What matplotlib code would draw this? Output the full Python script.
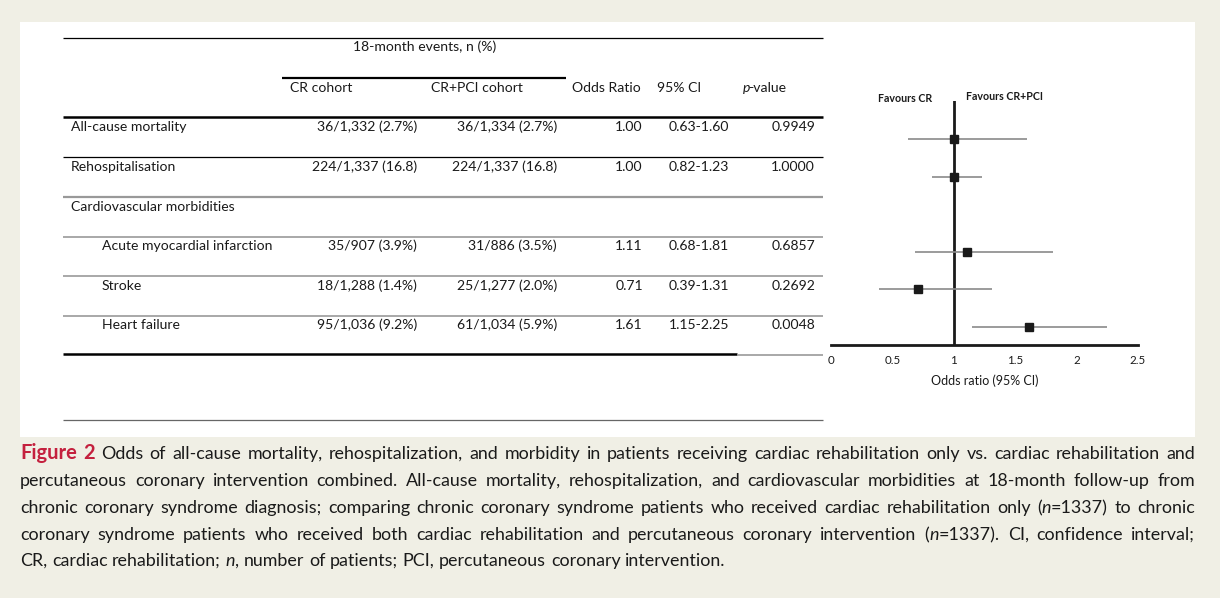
"""Forest plot with results table: CR vs CR+PCI, 18-month events."""

import matplotlib.pyplot as plt
from matplotlib.patches import Rectangle

# ---- data ----
outcomes = ["All-cause mortality", "Rehospitalisation", "Cardiovascular morbidities",
            "Acute myocardial infarction", "Stroke", "Heart failure"]
indented = [False, False, False, True, True, True]
cr_events = ["36/1,332 (2.7%)", "224/1,337 (16.8)", None,
             "35/907 (3.9%)", "18/1,288 (1.4%)", "95/1,036 (9.2%)"]
crpci_events = ["36/1,334 (2.7%)", "224/1,337 (16.8)", None,
                "31/886 (3.5%)", "25/1,277 (2.0%)", "61/1,034 (5.9%)"]
odds_ratio = [1.00, 1.00, None, 1.11, 0.71, 1.61]
ci_low = [0.63, 0.82, None, 0.68, 0.39, 1.15]
ci_high = [1.60, 1.23, None, 1.81, 1.31, 2.25]
p_values = ["0.9949", "1.0000", None, "0.6857", "0.2692", "0.0048"]

x_ticks = [0, 0.5, 1, 1.5, 2, 2.5]
x_tick_labels = ["0", "0.5", "1", "1.5", "2", "2.5"]

caption_lines = [
    "#Figure# #2# Odds of all-cause mortality, rehospitalization, and morbidity in patients receiving cardiac rehabilitation only vs. cardiac rehabilitation and",
    "percutaneous coronary intervention combined. All-cause mortality, rehospitalization, and cardiovascular morbidities at 18-month follow-up from",
    "chronic coronary syndrome diagnosis; comparing chronic coronary syndrome patients who received cardiac rehabilitation only (*n*=1337) to chronic",
    "coronary syndrome patients who received both cardiac rehabilitation and percutaneous coronary intervention (*n*=1337). CI, confidence interval;",
    "CR, cardiac rehabilitation; *n*, number of patients; PCI, percutaneous coronary intervention.",
]

# ---- style ----
BG = "#f0efe5"
INK = "#1a1a1a"
RED = "#c4203e"
FONT = "Lato"

W, H = 1220, 598
fig = plt.figure(figsize=(W / 100, H / 100), dpi=100)
fig.patch.set_facecolor(BG)
renderer = fig.canvas.get_renderer()

bg = fig.add_axes([0, 0, 1, 1])
bg.set_xlim(0, W)
bg.set_ylim(H, 0)
bg.axis("off")
bg.add_patch(Rectangle((20, 22), 1175, 415, facecolor="white", edgecolor="none"))

tkw = dict(fontfamily=FONT, fontsize=10.1, color=INK)

# ---- table ----
def rule(y, x0, x1, color="black", lw=1.0):
    bg.plot([x0, x1], [y, y], color=color, lw=lw, solid_capstyle="butt")

rule(38, 63, 823, lw=0.9)
rule(78, 282, 566, lw=1.6)
rule(117, 63, 823, lw=1.8)
rule(157, 63, 823, lw=0.9)
rule(197, 63, 823, color="#999999", lw=1.6)
for y in (237, 276, 316):
    rule(y, 63, 823, color="#999999", lw=1.2)
rule(354, 63, 737, lw=1.8)
rule(355, 737, 823, color="#999999", lw=1.2)
rule(420, 63, 823, color="#666666", lw=0.9)

bg.text(425, 47, "18-month events, n (%)", ha="center", va="center", **tkw)
bg.text(290, 88, "CR cohort", ha="left", va="center", **tkw)
bg.text(431, 88, "CR+PCI cohort", ha="left", va="center", **tkw)
bg.text(572, 88, "Odds Ratio", ha="left", va="center", **tkw)
bg.text(657, 88, "95% CI", ha="left", va="center", **tkw)
p_txt = bg.text(743, 88, "p", ha="left", va="center", fontstyle="italic", **tkw)
bg.text(743 + p_txt.get_window_extent(renderer).width - 2, 88, "-value",
        ha="left", va="center", **tkw)

row_y = [127, 167, 207, 246, 286, 325]
for i, name in enumerate(outcomes):
    y = row_y[i]
    bg.text(102 if indented[i] else 71, y, name, ha="left", va="center", **tkw)
    if odds_ratio[i] is None:
        continue
    bg.text(417, y, cr_events[i], ha="right", va="center", **tkw)
    bg.text(557, y, crpci_events[i], ha="right", va="center", **tkw)
    bg.text(643, y, f"{odds_ratio[i]:.2f}", ha="right", va="center", **tkw)
    bg.text(729, y, f"{ci_low[i]:.2f}-{ci_high[i]:.2f}", ha="right", va="center", **tkw)
    bg.text(815, y, p_values[i], ha="right", va="center", **tkw)

# ---- forest plot ----
fx = fig.add_axes([831 / W, (H - 345) / H, 307 / W, 244 / H])
fx.patch.set_alpha(0)
fx.set_xlim(0, 2.5)
fx.set_ylim(5.48, -1.01)
for s in ("top", "right", "left"):
    fx.spines[s].set_visible(False)
fx.spines["bottom"].set_linewidth(2)
fx.spines["bottom"].set_color(INK)
fx.set_yticks([])
fx.set_xticks(x_ticks)
fx.set_xticklabels(x_tick_labels, fontfamily=FONT, fontsize=8.3, color=INK)
fx.tick_params(axis="x", length=0, pad=7)
fx.set_xlabel("Odds ratio (95% CI)", fontfamily=FONT, fontsize=9, color=INK, labelpad=6)
fx.axvline(1, color=INK, lw=2)

rows = [i for i in range(len(outcomes)) if odds_ratio[i] is not None]
fx.hlines(rows, [ci_low[i] for i in rows], [ci_high[i] for i in rows], color="#8a8a8a", lw=1.2)
fx.plot([odds_ratio[i] for i in rows], rows, "s", color=INK, ms=5.2)

bg.text(905, 98, "Favours CR", ha="center", va="center", fontfamily=FONT,
        fontsize=7.7, color=INK, fontweight="bold")
bg.text(1004, 96, "Favours CR+PCI", ha="center", va="center", fontfamily=FONT,
        fontsize=7.7, color=INK, fontweight="bold")

# ---- caption (justified) ----
ckw = dict(fontfamily=FONT, fontsize=12.9, color=INK)


def parse_word(word):
    parts = []
    if word.startswith("#"):
        parts.append((word.strip("#"), dict(fontweight="bold", color=RED, fontsize=14.5)))
        return parts
    for k, piece in enumerate(word.split("*")):
        if piece:
            parts.append((piece, dict(fontstyle="italic") if k % 2 else {}))
    return parts


def text_width(s, **kw):
    t = bg.text(0, 0, s, **kw)
    w = t.get_window_extent(renderer).width
    t.remove()
    return w


space_w = text_width("a a", **ckw) - text_width("aa", **ckw)


def caption_line(line, y, justify, x0=20, x1=1195):
    words = []
    for word in line.split(" "):
        items = []
        for txt, extra in parse_word(word):
            kw = dict(ckw)
            kw.update(extra)
            t = bg.text(0, y, txt, ha="left", va="baseline", **kw)
            items.append((t, t.get_window_extent(renderer).width))
        words.append(items)
    widths = [sum(w for _, w in items) for items in words]
    if justify:
        gap = (x1 - x0 - sum(widths)) / (len(words) - 1)
    else:
        gap = space_w
    x = x0
    for items in words:
        for t, w in items:
            t.set_x(x)
            x += w
        x += gap


base_y = [459, 486, 513, 540, 566]
for k, line in enumerate(caption_lines):
    caption_line(line, base_y[k], justify=k < len(caption_lines) - 1)

fig.savefig("out.png", dpi=100, facecolor=fig.get_facecolor())
